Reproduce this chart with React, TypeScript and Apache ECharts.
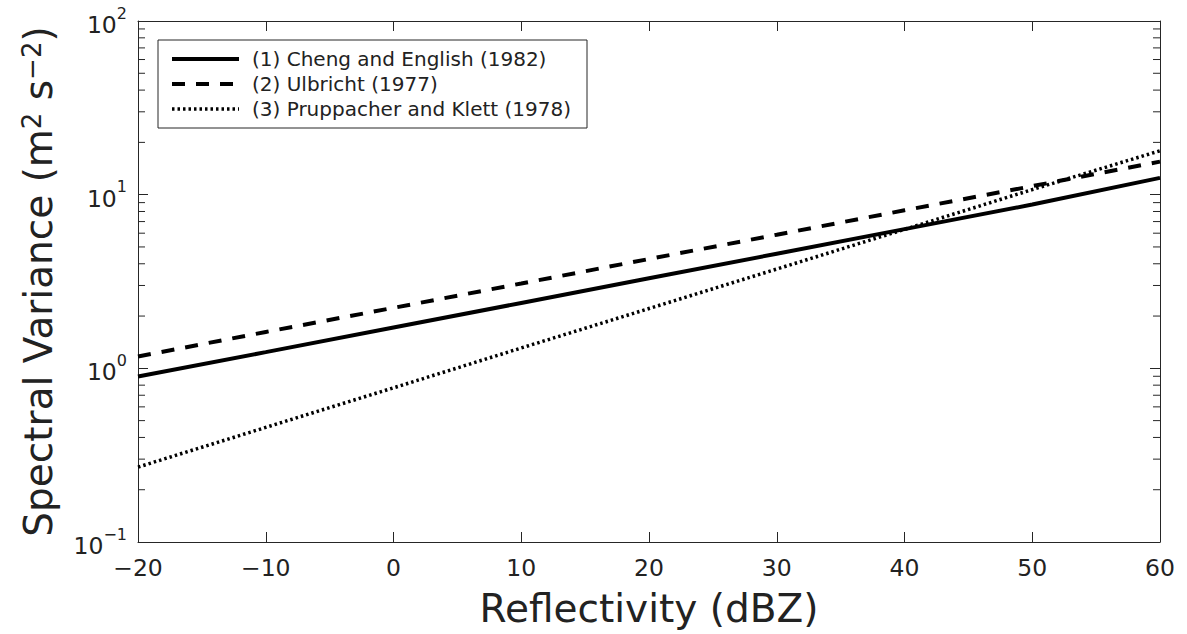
import React, { useEffect, useRef } from "react";
import * as echarts from "echarts";

const dbz = [-20, -10, 0, 10, 20, 30, 40, 50, 60];
const cheng = [0.897, 1.24, 1.72, 2.38, 3.3, 4.57, 6.33, 8.77, 12.5];
const ulbricht = [1.17, 1.62, 2.23, 3.08, 4.26, 5.88, 8.13, 11.2, 15.5];
const pruppacher = [0.27, 0.457, 0.772, 1.31, 2.21, 3.73, 6.31, 10.7, 17.9];
const seriesNames = [
  "(1) Cheng and English (1982)",
  "(2) Ulbricht (1977)",
  "(3) Pruppacher and Klett (1978)",
];
const minorTickValues = [
  0.2, 0.3, 0.4, 0.5, 0.6, 0.7, 0.8, 0.9,
  2, 3, 4, 5, 6, 7, 8, 9,
  20, 30, 40, 50, 60, 70, 80, 90,
];
const xMin = -20;
const xMax = 60;

const FONT = "DejaVu Sans";
const AX = "#262626";
const TXT = "#222";

const solidStyle = { color: "#000", width: 4, type: "solid" as any };
const dashStyle = { color: "#000", width: 4, type: [13, 11] as any };
const dotStyle = { color: "#000", width: 3.5, type: [2.5, 3] as any };

export default function App() {
  const ref = useRef<HTMLDivElement>(null);
  useEffect(() => {
    if (!ref.current) return;
    const chart = echarts.init(ref.current, null, { renderer: "svg" });
    const pairs = (ys: number[]) => dbz.map((x, i) => [x, ys[i]]);
    const minus = (v: number) => (v < 0 ? "−" + -v : String(v));
    const yLabelFmt = (v: number) => {
      const e = Math.round(Math.log10(v));
      return `{b|10}{s|${minus(e)}}`;
    };
    const common = {
      type: "line",
      showSymbol: false,
      symbol: "none",
      xAxisIndex: 0,
      yAxisIndex: 0,
    };
    chart.setOption({
      animation: false,
      backgroundColor: "#fff",
      grid: { left: 138, right: 27, top: 21, bottom: 92 },
      legend: {
        data: [
          { name: seriesNames[0], lineStyle: solidStyle },
          { name: seriesNames[1], lineStyle: dashStyle },
          { name: seriesNames[2], lineStyle: dotStyle },
        ],
        orient: "vertical",
        left: 158,
        top: 40,
        padding: [9, 16, 9, 12],
        itemGap: 5,
        itemWidth: 67,
        itemHeight: 14,
        itemStyle: { opacity: 0 },
        borderColor: AX,
        borderWidth: 1,
        borderRadius: 0,
        backgroundColor: "#fff",
        textStyle: { fontFamily: FONT, fontSize: 20, color: TXT, padding: [0, 0, 0, 8] },
      },
      xAxis: [
        {
          type: "value",
          min: xMin,
          max: xMax,
          interval: 10,
          position: "bottom",
          name: "Reflectivity (dBZ)",
          nameLocation: "middle",
          nameGap: 47,
          nameTextStyle: { fontFamily: FONT, fontSize: 39, color: TXT },
          axisLine: { show: true, lineStyle: { color: AX, width: 1 } },
          axisTick: { show: true, inside: true, length: 10, lineStyle: { color: AX } },
          axisLabel: {
            fontFamily: FONT,
            fontSize: 23.5,
            color: TXT,
            margin: 14,
            formatter: (v: number) => minus(v),
          },
          splitLine: { show: false },
        },
        {
          type: "value",
          min: xMin,
          max: xMax,
          interval: 10,
          position: "top",
          axisLine: { show: true, onZero: false, lineStyle: { color: AX, width: 1 } },
          axisTick: { show: true, inside: true, length: 10, lineStyle: { color: AX } },
          axisLabel: { show: false },
          splitLine: { show: false },
        },
      ],
      yAxis: [
        {
          type: "log",
          logBase: 10,
          min: 0.1,
          max: 100,
          position: "left",
          name: "Spectral Variance (m{s|2} s{s|−2})",
          nameLocation: "middle",
          nameGap: 80,
          nameTextStyle: {
            fontFamily: FONT,
            fontSize: 39,
            color: TXT,
            rich: {
              s: { fontFamily: FONT, fontSize: 26, color: TXT, verticalAlign: "top", lineHeight: 24 },
            },
          },
          axisLine: { show: true, onZero: false, lineStyle: { color: AX, width: 1 } },
          axisTick: { show: true, inside: true, length: 10, lineStyle: { color: AX } },
          axisLabel: {
            margin: 11,
            formatter: yLabelFmt,
            rich: {
              b: { fontFamily: FONT, fontSize: 23.5, color: TXT, lineHeight: 32, verticalAlign: "bottom" },
              s: { fontFamily: FONT, fontSize: 16, color: TXT, lineHeight: 16, verticalAlign: "top" },
            },
          },
          splitLine: { show: false },
          minorTick: { show: false },
        },
        {
          type: "log",
          logBase: 10,
          min: 0.1,
          max: 100,
          position: "right",
          axisLine: { show: true, onZero: false, lineStyle: { color: AX, width: 1 } },
          axisTick: { show: true, inside: true, length: 10, lineStyle: { color: AX } },
          axisLabel: { show: false },
          splitLine: { show: false },
        },
      ],
      series: [
        {
          type: "custom",
          name: "minorTicks",
          silent: true,
          xAxisIndex: 0,
          yAxisIndex: 0,
          clip: false,
          data: minorTickValues.map((v) => [xMin, v]),
          encode: { x: 0, y: 1 },
          renderItem: (_p: any, api: any) => {
            const v = api.value(1);
            const l = api.coord([xMin, v]);
            const r = api.coord([xMax, v]);
            const st = { stroke: AX, lineWidth: 1 };
            return {
              type: "group",
              children: [
                { type: "line", shape: { x1: l[0], y1: l[1], x2: l[0] + 7, y2: l[1] }, style: st },
                { type: "line", shape: { x1: r[0] - 7, y1: r[1], x2: r[0], y2: r[1] }, style: st },
              ],
            };
          },
          z: 1,
        },
        {
          ...common,
          name: seriesNames[0],
          data: pairs(cheng),
          lineStyle: solidStyle,
          itemStyle: { color: "#000" },
        },
        {
          ...common,
          name: seriesNames[1],
          data: pairs(ulbricht),
          lineStyle: dashStyle,
          itemStyle: { color: "#000" },
        },
        {
          ...common,
          name: seriesNames[2],
          data: pairs(pruppacher),
          lineStyle: dotStyle,
          itemStyle: { color: "#000" },
        },
      ],
    });
    return () => chart.dispose();
  }, []);
  return <div ref={ref} style={{ width: 1187, height: 634, position: "absolute", left: 0, top: 0 }} />;
}
